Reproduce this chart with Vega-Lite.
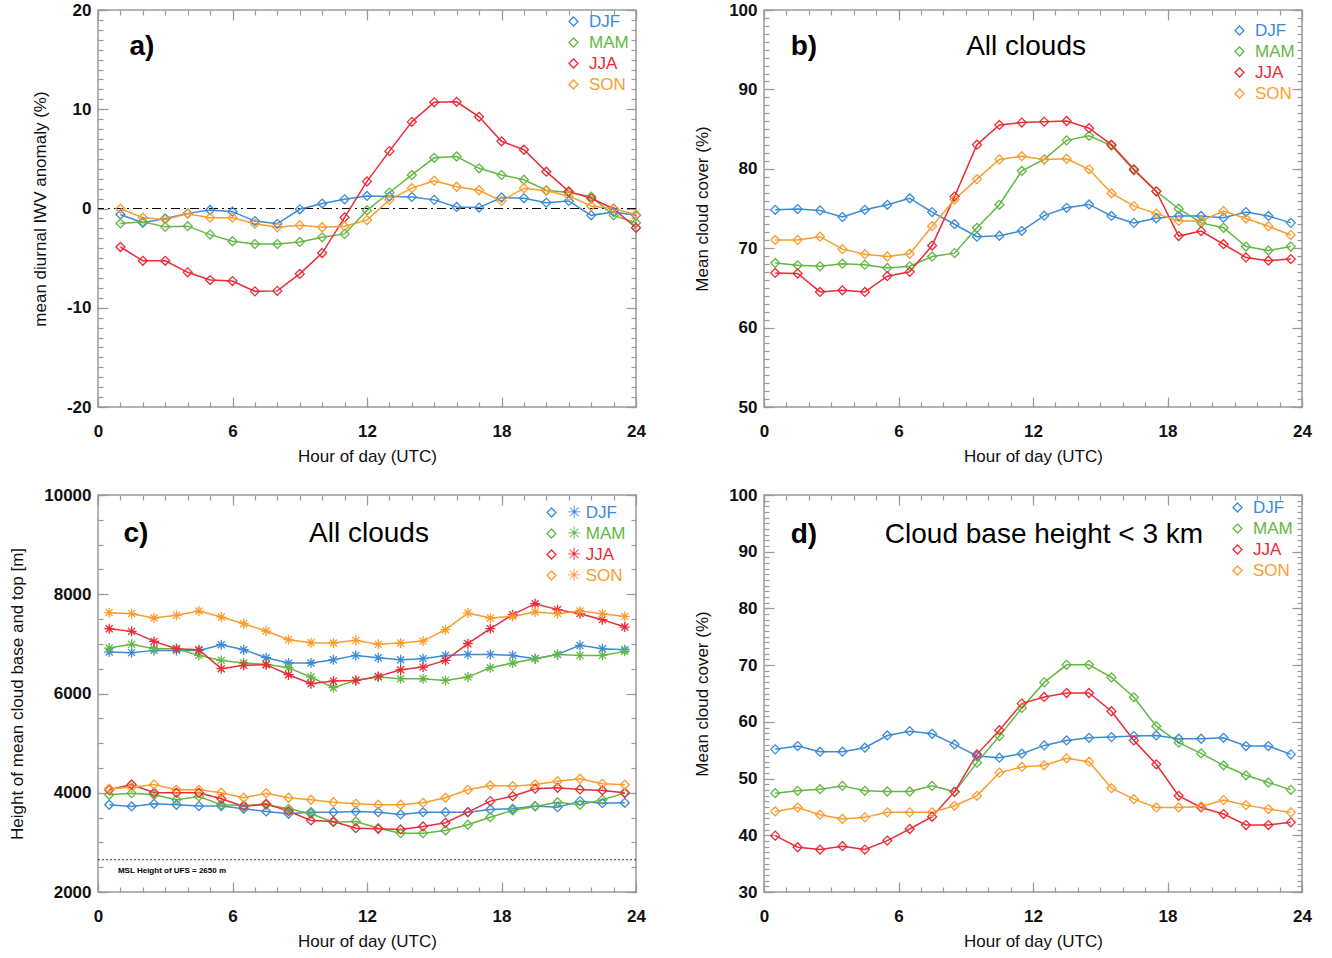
{
"$schema": "https://vega.github.io/schema/vega-lite/v6.json",
"padding": {"left": 7, "top": 0, "right": 5, "bottom": 5},
"background": "white",
"columns": 2,
"spacing": {"row": 88, "column": 128},
"bounds": "flush",
"resolve": {"scale": {"color": "independent"}, "legend": {"color": "independent"}},
"config": {
  "font": "Liberation Sans",
  "view": {"stroke": "#9a9a9a", "strokeWidth": 1.5},
  "axis": {"domain": false, "grid": false, "labelFont": "Liberation Sans", "labelFontSize": 17, "labelFontWeight": "bold", "labelColor": "#111111", "titleFont": "Liberation Sans", "titleFontSize": 17, "titleFontWeight": "normal", "titleColor": "#111111", "tickColor": "#9a9a9a", "tickWidth": 1.2, "labelFlush": false, "labelOverlap": false},
  "legend": {"labelFont": "Liberation Sans", "labelFontSize": 17, "symbolType": "diamond", "symbolSize": 80, "symbolStrokeWidth": 1.3, "symbolFillColor": "transparent", "labelOffset": 7, "rowPadding": 3, "padding": 0},
  "text": {"font": "Liberation Sans", "color": "#000000"}
},
"datasets": {
"a": [
{"h":1,"s":"DJF","v":-0.6},{"h":2,"s":"DJF","v":-1.44},{"h":3,"s":"DJF","v":-1.0},{"h":4,"s":"DJF","v":-0.49},{"h":5,"s":"DJF","v":-0.15},{"h":6,"s":"DJF","v":-0.32},{"h":7,"s":"DJF","v":-1.27},{"h":8,"s":"DJF","v":-1.54},{"h":9,"s":"DJF","v":-0.08},{"h":10,"s":"DJF","v":0.5},{"h":11,"s":"DJF","v":0.93},{"h":12,"s":"DJF","v":1.27},{"h":13,"s":"DJF","v":1.2},{"h":14,"s":"DJF","v":1.17},{"h":15,"s":"DJF","v":0.87},{"h":16,"s":"DJF","v":0.16},{"h":17,"s":"DJF","v":0.09},{"h":18,"s":"DJF","v":1.1},{"h":19,"s":"DJF","v":1.03},{"h":20,"s":"DJF","v":0.59},{"h":21,"s":"DJF","v":0.76},{"h":22,"s":"DJF","v":-0.69},{"h":23,"s":"DJF","v":-0.35},{"h":24,"s":"DJF","v":-0.69},
{"h":1,"s":"MAM","v":-1.5},{"h":2,"s":"MAM","v":-1.34},{"h":3,"s":"MAM","v":-1.85},{"h":4,"s":"MAM","v":-1.78},{"h":5,"s":"MAM","v":-2.63},{"h":6,"s":"MAM","v":-3.3},{"h":7,"s":"MAM","v":-3.58},{"h":8,"s":"MAM","v":-3.58},{"h":9,"s":"MAM","v":-3.37},{"h":10,"s":"MAM","v":-2.9},{"h":11,"s":"MAM","v":-2.56},{"h":12,"s":"MAM","v":-0.19},{"h":13,"s":"MAM","v":1.61},{"h":14,"s":"MAM","v":3.38},{"h":15,"s":"MAM","v":5.11},{"h":16,"s":"MAM","v":5.24},{"h":17,"s":"MAM","v":4.05},{"h":18,"s":"MAM","v":3.38},{"h":19,"s":"MAM","v":2.9},{"h":20,"s":"MAM","v":1.84},{"h":21,"s":"MAM","v":1.61},{"h":22,"s":"MAM","v":1.2},{"h":23,"s":"MAM","v":-0.69},{"h":24,"s":"MAM","v":-1.44},
{"h":1,"s":"JJA","v":-3.88},{"h":2,"s":"JJA","v":-5.27},{"h":3,"s":"JJA","v":-5.27},{"h":4,"s":"JJA","v":-6.43},{"h":5,"s":"JJA","v":-7.21},{"h":6,"s":"JJA","v":-7.31},{"h":7,"s":"JJA","v":-8.35},{"h":8,"s":"JJA","v":-8.3},{"h":9,"s":"JJA","v":-6.59},{"h":10,"s":"JJA","v":-4.49},{"h":11,"s":"JJA","v":-0.9},{"h":12,"s":"JJA","v":2.73},{"h":13,"s":"JJA","v":5.78},{"h":14,"s":"JJA","v":8.73},{"h":15,"s":"JJA","v":10.7},{"h":16,"s":"JJA","v":10.75},{"h":17,"s":"JJA","v":9.24},{"h":18,"s":"JJA","v":6.77},{"h":19,"s":"JJA","v":5.92},{"h":20,"s":"JJA","v":3.71},{"h":21,"s":"JJA","v":1.72},{"h":22,"s":"JJA","v":1.03},{"h":23,"s":"JJA","v":-0.02},{"h":24,"s":"JJA","v":-1.94},
{"h":1,"s":"SON","v":-0.02},{"h":2,"s":"SON","v":-0.93},{"h":3,"s":"SON","v":-1.1},{"h":4,"s":"SON","v":-0.53},{"h":5,"s":"SON","v":-0.93},{"h":6,"s":"SON","v":-0.93},{"h":7,"s":"SON","v":-1.54},{"h":8,"s":"SON","v":-1.89},{"h":9,"s":"SON","v":-1.68},{"h":10,"s":"SON","v":-1.89},{"h":11,"s":"SON","v":-1.78},{"h":12,"s":"SON","v":-1.17},{"h":13,"s":"SON","v":0.87},{"h":14,"s":"SON","v":2.05},{"h":15,"s":"SON","v":2.8},{"h":16,"s":"SON","v":2.19},{"h":17,"s":"SON","v":1.84},{"h":18,"s":"SON","v":0.76},{"h":19,"s":"SON","v":2.05},{"h":20,"s":"SON","v":1.79},{"h":21,"s":"SON","v":1.27},{"h":22,"s":"SON","v":0.25},{"h":23,"s":"SON","v":-0.02},{"h":24,"s":"SON","v":-0.6}
],
"b": [
{"h":0.5,"s":"DJF","v":74.84},{"h":1.5,"s":"DJF","v":74.93},{"h":2.5,"s":"DJF","v":74.76},{"h":3.5,"s":"DJF","v":73.93},{"h":4.5,"s":"DJF","v":74.84},{"h":5.5,"s":"DJF","v":75.47},{"h":6.5,"s":"DJF","v":76.29},{"h":7.5,"s":"DJF","v":74.55},{"h":8.5,"s":"DJF","v":73.02},{"h":9.5,"s":"DJF","v":71.45},{"h":10.5,"s":"DJF","v":71.57},{"h":11.5,"s":"DJF","v":72.19},{"h":12.5,"s":"DJF","v":74.1},{"h":13.5,"s":"DJF","v":75.09},{"h":14.5,"s":"DJF","v":75.51},{"h":15.5,"s":"DJF","v":74.06},{"h":16.5,"s":"DJF","v":73.19},{"h":17.5,"s":"DJF","v":73.77},{"h":18.5,"s":"DJF","v":74.06},{"h":19.5,"s":"DJF","v":74.06},{"h":20.5,"s":"DJF","v":73.85},{"h":21.5,"s":"DJF","v":74.55},{"h":22.5,"s":"DJF","v":74.06},{"h":23.5,"s":"DJF","v":73.19},
{"h":0.5,"s":"MAM","v":68.14},{"h":1.5,"s":"MAM","v":67.85},{"h":2.5,"s":"MAM","v":67.72},{"h":3.5,"s":"MAM","v":68.05},{"h":4.5,"s":"MAM","v":67.93},{"h":5.5,"s":"MAM","v":67.52},{"h":6.5,"s":"MAM","v":67.72},{"h":7.5,"s":"MAM","v":68.96},{"h":8.5,"s":"MAM","v":69.38},{"h":9.5,"s":"MAM","v":72.57},{"h":10.5,"s":"MAM","v":75.47},{"h":11.5,"s":"MAM","v":79.73},{"h":12.5,"s":"MAM","v":81.18},{"h":13.5,"s":"MAM","v":83.58},{"h":14.5,"s":"MAM","v":84.16},{"h":15.5,"s":"MAM","v":82.92},{"h":16.5,"s":"MAM","v":79.81},{"h":17.5,"s":"MAM","v":77.16},{"h":18.5,"s":"MAM","v":74.97},{"h":19.5,"s":"MAM","v":73.19},{"h":20.5,"s":"MAM","v":72.57},{"h":21.5,"s":"MAM","v":70.21},{"h":22.5,"s":"MAM","v":69.71},{"h":23.5,"s":"MAM","v":70.21},
{"h":0.5,"s":"JJA","v":66.89},{"h":1.5,"s":"JJA","v":66.81},{"h":2.5,"s":"JJA","v":64.49},{"h":3.5,"s":"JJA","v":64.7},{"h":4.5,"s":"JJA","v":64.49},{"h":5.5,"s":"JJA","v":66.48},{"h":6.5,"s":"JJA","v":67.02},{"h":7.5,"s":"JJA","v":70.33},{"h":8.5,"s":"JJA","v":76.5},{"h":9.5,"s":"JJA","v":83.04},{"h":10.5,"s":"JJA","v":85.53},{"h":11.5,"s":"JJA","v":85.82},{"h":12.5,"s":"JJA","v":85.94},{"h":13.5,"s":"JJA","v":86.02},{"h":14.5,"s":"JJA","v":85.11},{"h":15.5,"s":"JJA","v":83.04},{"h":16.5,"s":"JJA","v":79.94},{"h":17.5,"s":"JJA","v":77.16},{"h":18.5,"s":"JJA","v":71.53},{"h":19.5,"s":"JJA","v":72.15},{"h":20.5,"s":"JJA","v":70.5},{"h":21.5,"s":"JJA","v":68.84},{"h":22.5,"s":"JJA","v":68.43},{"h":23.5,"s":"JJA","v":68.63},
{"h":0.5,"s":"SON","v":71.04},{"h":1.5,"s":"SON","v":71.04},{"h":2.5,"s":"SON","v":71.45},{"h":3.5,"s":"SON","v":69.88},{"h":4.5,"s":"SON","v":69.25},{"h":5.5,"s":"SON","v":68.96},{"h":6.5,"s":"SON","v":69.3},{"h":7.5,"s":"SON","v":72.77},{"h":8.5,"s":"SON","v":76.13},{"h":9.5,"s":"SON","v":78.7},{"h":10.5,"s":"SON","v":81.18},{"h":11.5,"s":"SON","v":81.59},{"h":12.5,"s":"SON","v":81.18},{"h":13.5,"s":"SON","v":81.26},{"h":14.5,"s":"SON","v":79.94},{"h":15.5,"s":"SON","v":76.92},{"h":16.5,"s":"SON","v":75.3},{"h":17.5,"s":"SON","v":74.35},{"h":18.5,"s":"SON","v":73.44},{"h":19.5,"s":"SON","v":73.44},{"h":20.5,"s":"SON","v":74.68},{"h":21.5,"s":"SON","v":73.73},{"h":22.5,"s":"SON","v":72.77},{"h":23.5,"s":"SON","v":71.66}
],
"c": [
{"h":0.5,"s":"DJF","k":"top","v":6835},{"h":1.5,"s":"DJF","k":"top","v":6823},{"h":2.5,"s":"DJF","k":"top","v":6869},{"h":3.5,"s":"DJF","k":"top","v":6869},{"h":4.5,"s":"DJF","k":"top","v":6869},{"h":5.5,"s":"DJF","k":"top","v":6984},{"h":6.5,"s":"DJF","k":"top","v":6883},{"h":7.5,"s":"DJF","k":"top","v":6722},{"h":8.5,"s":"DJF","k":"top","v":6613},{"h":9.5,"s":"DJF","k":"top","v":6613},{"h":10.5,"s":"DJF","k":"top","v":6681},{"h":11.5,"s":"DJF","k":"top","v":6768},{"h":12.5,"s":"DJF","k":"top","v":6722},{"h":13.5,"s":"DJF","k":"top","v":6681},{"h":14.5,"s":"DJF","k":"top","v":6702},{"h":15.5,"s":"DJF","k":"top","v":6768},{"h":16.5,"s":"DJF","k":"top","v":6788},{"h":17.5,"s":"DJF","k":"top","v":6788},{"h":18.5,"s":"DJF","k":"top","v":6768},{"h":19.5,"s":"DJF","k":"top","v":6702},{"h":20.5,"s":"DJF","k":"top","v":6788},{"h":21.5,"s":"DJF","k":"top","v":6970},{"h":22.5,"s":"DJF","k":"top","v":6903},{"h":23.5,"s":"DJF","k":"top","v":6883},
{"h":0.5,"s":"MAM","k":"top","v":6916},{"h":1.5,"s":"MAM","k":"top","v":6990},{"h":2.5,"s":"MAM","k":"top","v":6903},{"h":3.5,"s":"MAM","k":"top","v":6903},{"h":4.5,"s":"MAM","k":"top","v":6768},{"h":5.5,"s":"MAM","k":"top","v":6667},{"h":6.5,"s":"MAM","k":"top","v":6613},{"h":7.5,"s":"MAM","k":"top","v":6587},{"h":8.5,"s":"MAM","k":"top","v":6520},{"h":9.5,"s":"MAM","k":"top","v":6331},{"h":10.5,"s":"MAM","k":"top","v":6117},{"h":11.5,"s":"MAM","k":"top","v":6264},{"h":12.5,"s":"MAM","k":"top","v":6331},{"h":13.5,"s":"MAM","k":"top","v":6298},{"h":14.5,"s":"MAM","k":"top","v":6298},{"h":15.5,"s":"MAM","k":"top","v":6264},{"h":16.5,"s":"MAM","k":"top","v":6331},{"h":17.5,"s":"MAM","k":"top","v":6520},{"h":18.5,"s":"MAM","k":"top","v":6613},{"h":19.5,"s":"MAM","k":"top","v":6702},{"h":20.5,"s":"MAM","k":"top","v":6788},{"h":21.5,"s":"MAM","k":"top","v":6768},{"h":22.5,"s":"MAM","k":"top","v":6768},{"h":23.5,"s":"MAM","k":"top","v":6849},
{"h":0.5,"s":"JJA","k":"top","v":7306},{"h":1.5,"s":"JJA","k":"top","v":7252},{"h":2.5,"s":"JJA","k":"top","v":7050},{"h":3.5,"s":"JJA","k":"top","v":6903},{"h":4.5,"s":"JJA","k":"top","v":6883},{"h":5.5,"s":"JJA","k":"top","v":6500},{"h":6.5,"s":"JJA","k":"top","v":6567},{"h":7.5,"s":"JJA","k":"top","v":6581},{"h":8.5,"s":"JJA","k":"top","v":6379},{"h":9.5,"s":"JJA","k":"top","v":6198},{"h":10.5,"s":"JJA","k":"top","v":6250},{"h":11.5,"s":"JJA","k":"top","v":6264},{"h":12.5,"s":"JJA","k":"top","v":6345},{"h":13.5,"s":"JJA","k":"top","v":6480},{"h":14.5,"s":"JJA","k":"top","v":6532},{"h":15.5,"s":"JJA","k":"top","v":6667},{"h":16.5,"s":"JJA","k":"top","v":7004},{"h":17.5,"s":"JJA","k":"top","v":7306},{"h":18.5,"s":"JJA","k":"top","v":7589},{"h":19.5,"s":"JJA","k":"top","v":7810},{"h":20.5,"s":"JJA","k":"top","v":7690},{"h":21.5,"s":"JJA","k":"top","v":7609},{"h":22.5,"s":"JJA","k":"top","v":7488},{"h":23.5,"s":"JJA","k":"top","v":7339},
{"h":0.5,"s":"SON","k":"top","v":7629},{"h":1.5,"s":"SON","k":"top","v":7609},{"h":2.5,"s":"SON","k":"top","v":7520},{"h":3.5,"s":"SON","k":"top","v":7575},{"h":4.5,"s":"SON","k":"top","v":7661},{"h":5.5,"s":"SON","k":"top","v":7540},{"h":6.5,"s":"SON","k":"top","v":7407},{"h":7.5,"s":"SON","k":"top","v":7258},{"h":8.5,"s":"SON","k":"top","v":7085},{"h":9.5,"s":"SON","k":"top","v":7024},{"h":10.5,"s":"SON","k":"top","v":7016},{"h":11.5,"s":"SON","k":"top","v":7071},{"h":12.5,"s":"SON","k":"top","v":6990},{"h":13.5,"s":"SON","k":"top","v":7016},{"h":14.5,"s":"SON","k":"top","v":7056},{"h":15.5,"s":"SON","k":"top","v":7286},{"h":16.5,"s":"SON","k":"top","v":7621},{"h":17.5,"s":"SON","k":"top","v":7520},{"h":18.5,"s":"SON","k":"top","v":7554},{"h":19.5,"s":"SON","k":"top","v":7641},{"h":20.5,"s":"SON","k":"top","v":7609},{"h":21.5,"s":"SON","k":"top","v":7661},{"h":22.5,"s":"SON","k":"top","v":7609},{"h":23.5,"s":"SON","k":"top","v":7554},
{"h":0.5,"s":"DJF","k":"base","v":3758},{"h":1.5,"s":"DJF","k":"base","v":3724},{"h":2.5,"s":"DJF","k":"base","v":3778},{"h":3.5,"s":"DJF","k":"base","v":3758},{"h":4.5,"s":"DJF","k":"base","v":3731},{"h":5.5,"s":"DJF","k":"base","v":3731},{"h":6.5,"s":"DJF","k":"base","v":3677},{"h":7.5,"s":"DJF","k":"base","v":3623},{"h":8.5,"s":"DJF","k":"base","v":3577},{"h":9.5,"s":"DJF","k":"base","v":3609},{"h":10.5,"s":"DJF","k":"base","v":3609},{"h":11.5,"s":"DJF","k":"base","v":3623},{"h":12.5,"s":"DJF","k":"base","v":3609},{"h":13.5,"s":"DJF","k":"base","v":3563},{"h":14.5,"s":"DJF","k":"base","v":3609},{"h":15.5,"s":"DJF","k":"base","v":3609},{"h":16.5,"s":"DJF","k":"base","v":3609},{"h":17.5,"s":"DJF","k":"base","v":3663},{"h":18.5,"s":"DJF","k":"base","v":3677},{"h":19.5,"s":"DJF","k":"base","v":3731},{"h":20.5,"s":"DJF","k":"base","v":3710},{"h":21.5,"s":"DJF","k":"base","v":3831},{"h":22.5,"s":"DJF","k":"base","v":3790},{"h":23.5,"s":"DJF","k":"base","v":3798},
{"h":0.5,"s":"MAM","k":"base","v":3960},{"h":1.5,"s":"MAM","k":"base","v":3992},{"h":2.5,"s":"MAM","k":"base","v":3960},{"h":3.5,"s":"MAM","k":"base","v":3859},{"h":4.5,"s":"MAM","k":"base","v":3925},{"h":5.5,"s":"MAM","k":"base","v":3758},{"h":6.5,"s":"MAM","k":"base","v":3744},{"h":7.5,"s":"MAM","k":"base","v":3758},{"h":8.5,"s":"MAM","k":"base","v":3677},{"h":9.5,"s":"MAM","k":"base","v":3577},{"h":10.5,"s":"MAM","k":"base","v":3407},{"h":11.5,"s":"MAM","k":"base","v":3421},{"h":12.5,"s":"MAM","k":"base","v":3286},{"h":13.5,"s":"MAM","k":"base","v":3185},{"h":14.5,"s":"MAM","k":"base","v":3185},{"h":15.5,"s":"MAM","k":"base","v":3239},{"h":16.5,"s":"MAM","k":"base","v":3355},{"h":17.5,"s":"MAM","k":"base","v":3508},{"h":18.5,"s":"MAM","k":"base","v":3643},{"h":19.5,"s":"MAM","k":"base","v":3724},{"h":20.5,"s":"MAM","k":"base","v":3810},{"h":21.5,"s":"MAM","k":"base","v":3758},{"h":22.5,"s":"MAM","k":"base","v":3859},{"h":23.5,"s":"MAM","k":"base","v":3992},
{"h":0.5,"s":"JJA","k":"base","v":4060},{"h":1.5,"s":"JJA","k":"base","v":4167},{"h":2.5,"s":"JJA","k":"base","v":4000},{"h":3.5,"s":"JJA","k":"base","v":4000},{"h":4.5,"s":"JJA","k":"base","v":4000},{"h":5.5,"s":"JJA","k":"base","v":3879},{"h":6.5,"s":"JJA","k":"base","v":3724},{"h":7.5,"s":"JJA","k":"base","v":3778},{"h":8.5,"s":"JJA","k":"base","v":3629},{"h":9.5,"s":"JJA","k":"base","v":3442},{"h":10.5,"s":"JJA","k":"base","v":3421},{"h":11.5,"s":"JJA","k":"base","v":3286},{"h":12.5,"s":"JJA","k":"base","v":3274},{"h":13.5,"s":"JJA","k":"base","v":3260},{"h":14.5,"s":"JJA","k":"base","v":3321},{"h":15.5,"s":"JJA","k":"base","v":3395},{"h":16.5,"s":"JJA","k":"base","v":3609},{"h":17.5,"s":"JJA","k":"base","v":3831},{"h":18.5,"s":"JJA","k":"base","v":3931},{"h":19.5,"s":"JJA","k":"base","v":4081},{"h":20.5,"s":"JJA","k":"base","v":4101},{"h":21.5,"s":"JJA","k":"base","v":4067},{"h":22.5,"s":"JJA","k":"base","v":4046},{"h":23.5,"s":"JJA","k":"base","v":4000},
{"h":0.5,"s":"SON","k":"base","v":4081},{"h":1.5,"s":"SON","k":"base","v":4113},{"h":2.5,"s":"SON","k":"base","v":4167},{"h":3.5,"s":"SON","k":"base","v":4060},{"h":4.5,"s":"SON","k":"base","v":4060},{"h":5.5,"s":"SON","k":"base","v":4000},{"h":6.5,"s":"SON","k":"base","v":3899},{"h":7.5,"s":"SON","k":"base","v":3992},{"h":8.5,"s":"SON","k":"base","v":3899},{"h":9.5,"s":"SON","k":"base","v":3859},{"h":10.5,"s":"SON","k":"base","v":3810},{"h":11.5,"s":"SON","k":"base","v":3778},{"h":12.5,"s":"SON","k":"base","v":3758},{"h":13.5,"s":"SON","k":"base","v":3758},{"h":14.5,"s":"SON","k":"base","v":3798},{"h":15.5,"s":"SON","k":"base","v":3899},{"h":16.5,"s":"SON","k":"base","v":4060},{"h":17.5,"s":"SON","k":"base","v":4147},{"h":18.5,"s":"SON","k":"base","v":4133},{"h":19.5,"s":"SON","k":"base","v":4167},{"h":20.5,"s":"SON","k":"base","v":4234},{"h":21.5,"s":"SON","k":"base","v":4282},{"h":22.5,"s":"SON","k":"base","v":4181},{"h":23.5,"s":"SON","k":"base","v":4161}
],
"d": [
{"h":0.5,"s":"DJF","v":55.15},{"h":1.5,"s":"DJF","v":55.73},{"h":2.5,"s":"DJF","v":54.74},{"h":3.5,"s":"DJF","v":54.74},{"h":4.5,"s":"DJF","v":55.44},{"h":5.5,"s":"DJF","v":57.6},{"h":6.5,"s":"DJF","v":58.36},{"h":7.5,"s":"DJF","v":57.89},{"h":8.5,"s":"DJF","v":56.02},{"h":9.5,"s":"DJF","v":53.98},{"h":10.5,"s":"DJF","v":53.68},{"h":11.5,"s":"DJF","v":54.39},{"h":12.5,"s":"DJF","v":55.85},{"h":13.5,"s":"DJF","v":56.73},{"h":14.5,"s":"DJF","v":57.19},{"h":15.5,"s":"DJF","v":57.31},{"h":16.5,"s":"DJF","v":57.49},{"h":17.5,"s":"DJF","v":57.6},{"h":18.5,"s":"DJF","v":57.02},{"h":19.5,"s":"DJF","v":57.02},{"h":20.5,"s":"DJF","v":57.19},{"h":21.5,"s":"DJF","v":55.73},{"h":22.5,"s":"DJF","v":55.73},{"h":23.5,"s":"DJF","v":54.27},
{"h":0.5,"s":"MAM","v":47.43},{"h":1.5,"s":"MAM","v":47.84},{"h":2.5,"s":"MAM","v":48.13},{"h":3.5,"s":"MAM","v":48.71},{"h":4.5,"s":"MAM","v":47.84},{"h":5.5,"s":"MAM","v":47.72},{"h":6.5,"s":"MAM","v":47.72},{"h":7.5,"s":"MAM","v":48.71},{"h":8.5,"s":"MAM","v":47.66},{"h":9.5,"s":"MAM","v":52.81},{"h":10.5,"s":"MAM","v":57.49},{"h":11.5,"s":"MAM","v":62.46},{"h":12.5,"s":"MAM","v":66.96},{"h":13.5,"s":"MAM","v":70.06},{"h":14.5,"s":"MAM","v":70.06},{"h":15.5,"s":"MAM","v":67.84},{"h":16.5,"s":"MAM","v":64.33},{"h":17.5,"s":"MAM","v":59.24},{"h":18.5,"s":"MAM","v":56.32},{"h":19.5,"s":"MAM","v":54.44},{"h":20.5,"s":"MAM","v":52.34},{"h":21.5,"s":"MAM","v":50.58},{"h":22.5,"s":"MAM","v":49.3},{"h":23.5,"s":"MAM","v":48.01},
{"h":0.5,"s":"JJA","v":39.94},{"h":1.5,"s":"JJA","v":37.89},{"h":2.5,"s":"JJA","v":37.49},{"h":3.5,"s":"JJA","v":38.07},{"h":4.5,"s":"JJA","v":37.49},{"h":5.5,"s":"JJA","v":39.06},{"h":6.5,"s":"JJA","v":41.11},{"h":7.5,"s":"JJA","v":43.27},{"h":8.5,"s":"JJA","v":47.66},{"h":9.5,"s":"JJA","v":54.27},{"h":10.5,"s":"JJA","v":58.54},{"h":11.5,"s":"JJA","v":63.22},{"h":12.5,"s":"JJA","v":64.39},{"h":13.5,"s":"JJA","v":65.09},{"h":14.5,"s":"JJA","v":65.09},{"h":15.5,"s":"JJA","v":61.87},{"h":16.5,"s":"JJA","v":56.73},{"h":17.5,"s":"JJA","v":52.51},{"h":18.5,"s":"JJA","v":46.96},{"h":19.5,"s":"JJA","v":44.91},{"h":20.5,"s":"JJA","v":43.74},{"h":21.5,"s":"JJA","v":41.81},{"h":22.5,"s":"JJA","v":41.81},{"h":23.5,"s":"JJA","v":42.28},
{"h":0.5,"s":"SON","v":44.21},{"h":1.5,"s":"SON","v":44.91},{"h":2.5,"s":"SON","v":43.63},{"h":3.5,"s":"SON","v":42.87},{"h":4.5,"s":"SON","v":43.16},{"h":5.5,"s":"SON","v":44.04},{"h":6.5,"s":"SON","v":44.04},{"h":7.5,"s":"SON","v":44.04},{"h":8.5,"s":"SON","v":45.2},{"h":9.5,"s":"SON","v":46.96},{"h":10.5,"s":"SON","v":51.05},{"h":11.5,"s":"SON","v":52.05},{"h":12.5,"s":"SON","v":52.34},{"h":13.5,"s":"SON","v":53.57},{"h":14.5,"s":"SON","v":52.98},{"h":15.5,"s":"SON","v":48.3},{"h":16.5,"s":"SON","v":46.37},{"h":17.5,"s":"SON","v":44.91},{"h":18.5,"s":"SON","v":44.91},{"h":19.5,"s":"SON","v":45.09},{"h":20.5,"s":"SON","v":46.2},{"h":21.5,"s":"SON","v":45.32},{"h":22.5,"s":"SON","v":44.62},{"h":23.5,"s":"SON","v":44.04}
]
},
"concat": [
{
 "width": 538, "height": 397,
 "data": {"name": "a"},
 "resolve": {"axis": {"x": "independent", "y": "independent"}},
 "layer": [
  {"data": {"values": [{}]}, "mark": {"type": "rule", "color": "#000000", "strokeWidth": 1, "strokeDash": [9, 4, 2, 4]},
   "encoding": {"y": {"datum": 0, "type": "quantitative", "scale": {"domain": [-20, 20], "nice": false}, "axis": null}}},
  {"mark": {"type": "line", "strokeWidth": 1.5},
   "encoding": {
    "x": {"field": "h", "type": "quantitative", "scale": {"domain": [0, 24], "nice": false, "zero": false}, "axis": {"orient": "bottom", "values": [0, 6, 12, 18, 24], "ticks": false, "labelPadding": 16, "title": "Hour of day (UTC)", "titlePadding": 9}},
    "y": {"field": "v", "type": "quantitative", "scale": {"domain": [-20, 20], "nice": false}, "axis": {"orient": "left", "values": [-20, -10, 0, 10, 20], "ticks": false, "labelPadding": 7, "labelExpr": "datum.value < 0 ? '-' + abs(datum.value) : '' + datum.value", "title": "mean diurnal IWV anomaly (%)", "titlePadding": 17}},
    "color": {"field": "s", "type": "nominal", "scale": {"domain": ["DJF", "MAM", "JJA", "SON"], "range": ["#3b8bd9", "#63b843", "#ec2b36", "#fb9c2d"]},
     "legend": {"title": null, "orient": "none", "legendX": 467, "legendY": 3, "encode": {"labels": {"update": {"fill": {"signal": "datum.value === 'DJF' ? '#3b8bd9' : datum.value === 'MAM' ? '#63b843' : datum.value === 'JJA' ? '#ec2b36' : '#fb9c2d'"}}}}}}
   }},
  {"mark": {"type": "point", "shape": "diamond", "filled": false, "size": 80, "strokeWidth": 1.3, "opacity": 1},
   "encoding": {
    "x": {"field": "h", "type": "quantitative", "scale": {"domain": [0, 24], "nice": false, "zero": false}, "axis": null},
    "y": {"field": "v", "type": "quantitative", "scale": {"domain": [-20, 20], "nice": false}, "axis": null},
    "color": {"field": "s", "type": "nominal", "scale": {"domain": ["DJF", "MAM", "JJA", "SON"], "range": ["#3b8bd9", "#63b843", "#ec2b36", "#fb9c2d"]}}
   }},
  {"mark": {"type": "point", "opacity": 0},
   "encoding": {
    "x": {"field": "h", "type": "quantitative", "scale": {"domain": [0, 24], "nice": false, "zero": false}, "axis": {"orient": "bottom", "values": [0, 6, 12, 18, 24], "labels": false, "tickSize": -10, "title": null}},
    "y": {"field": "v", "type": "quantitative", "scale": {"domain": [-20, 20], "nice": false}, "axis": {"orient": "left", "values": [-20, -10, 0, 10, 20], "labels": false, "tickSize": -10, "title": null}}
   }},
  {"mark": {"type": "point", "opacity": 0},
   "encoding": {
    "x": {"field": "h", "type": "quantitative", "scale": {"domain": [0, 24], "nice": false, "zero": false}, "axis": {"orient": "top", "values": [0, 6, 12, 18, 24], "labels": false, "tickSize": -10, "title": null}},
    "y": {"field": "v", "type": "quantitative", "scale": {"domain": [-20, 20], "nice": false}, "axis": {"orient": "right", "values": [-20, -10, 0, 10, 20], "labels": false, "tickSize": -10, "title": null}}
   }},
  {"mark": {"type": "point", "opacity": 0},
   "encoding": {
    "x": {"field": "h", "type": "quantitative", "scale": {"domain": [0, 24], "nice": false, "zero": false}, "axis": {"orient": "bottom", "tickCount": 24, "labels": false, "tickSize": -5, "title": null}},
    "y": {"field": "v", "type": "quantitative", "scale": {"domain": [-20, 20], "nice": false}, "axis": {"orient": "left", "tickCount": 40, "labels": false, "tickSize": -5, "title": null}}
   }},
  {"mark": {"type": "point", "opacity": 0},
   "encoding": {
    "x": {"field": "h", "type": "quantitative", "scale": {"domain": [0, 24], "nice": false, "zero": false}, "axis": {"orient": "top", "tickCount": 24, "labels": false, "tickSize": -5, "title": null}},
    "y": {"field": "v", "type": "quantitative", "scale": {"domain": [-20, 20], "nice": false}, "axis": {"orient": "right", "tickCount": 40, "labels": false, "tickSize": -5, "title": null}}
   }},
  {"data": {"values": [{}]}, "mark": {"type": "text", "fontSize": 28, "fontWeight": "bold", "align": "center", "baseline": "middle"},
   "encoding": {"x": {"datum": 1.96, "type": "quantitative", "axis": null}, "y": {"datum": 16.27, "type": "quantitative", "axis": null}, "text": {"value": "a)"}}}
 ]
},
{
 "width": 538, "height": 397,
 "data": {"name": "b"},
 "resolve": {"axis": {"x": "independent", "y": "independent"}},
 "layer": [
  {"mark": {"type": "line", "strokeWidth": 1.5},
   "encoding": {
    "x": {"field": "h", "type": "quantitative", "scale": {"domain": [0, 24], "nice": false, "zero": false}, "axis": {"orient": "bottom", "values": [0, 6, 12, 18, 24], "ticks": false, "labelPadding": 16, "title": "Hour of day (UTC)", "titlePadding": 9}},
    "y": {"field": "v", "type": "quantitative", "scale": {"domain": [50, 100], "nice": false, "zero": false}, "axis": {"orient": "left", "values": [50, 60, 70, 80, 90, 100], "ticks": false, "labelPadding": 7, "title": "Mean cloud cover (%)", "titlePadding": 17}},
    "color": {"field": "s", "type": "nominal", "scale": {"domain": ["DJF", "MAM", "JJA", "SON"], "range": ["#3b8bd9", "#63b843", "#ec2b36", "#fb9c2d"]},
     "legend": {"title": null, "orient": "none", "legendX": 467, "legendY": 12, "encode": {"labels": {"update": {"fill": {"signal": "datum.value === 'DJF' ? '#3b8bd9' : datum.value === 'MAM' ? '#63b843' : datum.value === 'JJA' ? '#ec2b36' : '#fb9c2d'"}}}}}}
   }},
  {"mark": {"type": "point", "shape": "diamond", "filled": false, "size": 80, "strokeWidth": 1.3, "opacity": 1},
   "encoding": {
    "x": {"field": "h", "type": "quantitative", "scale": {"domain": [0, 24], "nice": false, "zero": false}, "axis": null},
    "y": {"field": "v", "type": "quantitative", "scale": {"domain": [50, 100], "nice": false, "zero": false}, "axis": null},
    "color": {"field": "s", "type": "nominal", "scale": {"domain": ["DJF", "MAM", "JJA", "SON"], "range": ["#3b8bd9", "#63b843", "#ec2b36", "#fb9c2d"]}}
   }},
  {"mark": {"type": "point", "opacity": 0},
   "encoding": {
    "x": {"field": "h", "type": "quantitative", "scale": {"domain": [0, 24], "nice": false, "zero": false}, "axis": {"orient": "bottom", "values": [0, 6, 12, 18, 24], "labels": false, "tickSize": -10, "title": null}},
    "y": {"field": "v", "type": "quantitative", "scale": {"domain": [50, 100], "nice": false, "zero": false}, "axis": {"orient": "left", "values": [50, 60, 70, 80, 90, 100], "labels": false, "tickSize": -10, "title": null}}
   }},
  {"mark": {"type": "point", "opacity": 0},
   "encoding": {
    "x": {"field": "h", "type": "quantitative", "scale": {"domain": [0, 24], "nice": false, "zero": false}, "axis": {"orient": "top", "values": [0, 6, 12, 18, 24], "labels": false, "tickSize": -10, "title": null}},
    "y": {"field": "v", "type": "quantitative", "scale": {"domain": [50, 100], "nice": false, "zero": false}, "axis": {"orient": "right", "values": [50, 60, 70, 80, 90, 100], "labels": false, "tickSize": -10, "title": null}}
   }},
  {"mark": {"type": "point", "opacity": 0},
   "encoding": {
    "x": {"field": "h", "type": "quantitative", "scale": {"domain": [0, 24], "nice": false, "zero": false}, "axis": {"orient": "bottom", "tickCount": 24, "labels": false, "tickSize": -5, "title": null}},
    "y": {"field": "v", "type": "quantitative", "scale": {"domain": [50, 100], "nice": false, "zero": false}, "axis": {"orient": "left", "tickCount": 50, "labels": false, "tickSize": -5, "title": null}}
   }},
  {"mark": {"type": "point", "opacity": 0},
   "encoding": {
    "x": {"field": "h", "type": "quantitative", "scale": {"domain": [0, 24], "nice": false, "zero": false}, "axis": {"orient": "top", "tickCount": 24, "labels": false, "tickSize": -5, "title": null}},
    "y": {"field": "v", "type": "quantitative", "scale": {"domain": [50, 100], "nice": false, "zero": false}, "axis": {"orient": "right", "tickCount": 50, "labels": false, "tickSize": -5, "title": null}}
   }},
  {"data": {"values": [{}]}, "mark": {"type": "text", "fontSize": 28, "fontWeight": "bold", "align": "center", "baseline": "middle"},
   "encoding": {"x": {"datum": 1.78, "type": "quantitative", "axis": null}, "y": {"datum": 95.3, "type": "quantitative", "axis": null}, "text": {"value": "b)"}}},
  {"data": {"values": [{}]}, "mark": {"type": "text", "fontSize": 28, "fontWeight": "normal", "align": "center", "baseline": "middle"},
   "encoding": {"x": {"datum": 11.69, "type": "quantitative", "axis": null}, "y": {"datum": 95.3, "type": "quantitative", "axis": null}, "text": {"value": "All clouds"}}}
 ]
},
{
 "width": 538, "height": 397,
 "data": {"name": "c"},
 "resolve": {"axis": {"x": "independent", "y": "independent"}},
 "layer": [
  {"data": {"values": [{}]}, "mark": {"type": "rule", "color": "#333333", "strokeWidth": 1, "strokeDash": [2, 2]},
   "encoding": {"y": {"datum": 2650, "type": "quantitative", "scale": {"domain": [2000, 10000], "nice": false, "zero": false}, "axis": null}}},
  {"mark": {"type": "line", "strokeWidth": 1.5},
   "encoding": {
    "x": {"field": "h", "type": "quantitative", "scale": {"domain": [0, 24], "nice": false, "zero": false}, "axis": {"orient": "bottom", "values": [0, 6, 12, 18, 24], "ticks": false, "labelPadding": 16, "title": "Hour of day (UTC)", "titlePadding": 9}},
    "y": {"field": "v", "type": "quantitative", "scale": {"domain": [2000, 10000], "nice": false, "zero": false}, "axis": {"orient": "left", "values": [2000, 4000, 6000, 8000, 10000], "ticks": false, "labelPadding": 7, "labelExpr": "'' + datum.value", "title": "Height of mean cloud base and top [m]", "titlePadding": 17}},
    "detail": {"field": "k", "type": "nominal"},
    "color": {"field": "s", "type": "nominal", "scale": {"domain": ["DJF", "MAM", "JJA", "SON"], "range": ["#3b8bd9", "#63b843", "#ec2b36", "#fb9c2d"]},
     "legend": {"title": null, "orient": "none", "legendX": 445, "legendY": 9, "labelExpr": "'✳  ' + datum.label", "encode": {"labels": {"update": {"fill": {"signal": "datum.value === 'DJF' ? '#3b8bd9' : datum.value === 'MAM' ? '#63b843' : datum.value === 'JJA' ? '#ec2b36' : '#fb9c2d'"}}}}}}
   }},
  {"transform": [{"filter": "datum.k === 'base'"}],
   "mark": {"type": "point", "shape": "diamond", "filled": false, "size": 80, "strokeWidth": 1.3, "opacity": 1},
   "encoding": {
    "x": {"field": "h", "type": "quantitative", "scale": {"domain": [0, 24], "nice": false, "zero": false}, "axis": null},
    "y": {"field": "v", "type": "quantitative", "scale": {"domain": [2000, 10000], "nice": false, "zero": false}, "axis": null},
    "color": {"field": "s", "type": "nominal", "scale": {"domain": ["DJF", "MAM", "JJA", "SON"], "range": ["#3b8bd9", "#63b843", "#ec2b36", "#fb9c2d"]}}
   }},
  {"transform": [{"filter": "datum.k === 'top'"}],
   "mark": {"type": "point", "shape": "M-1,0L1,0M0,-1L0,1M-0.7,-0.7L0.7,0.7M-0.7,0.7L0.7,-0.7", "filled": false, "size": 100, "strokeWidth": 1.3, "opacity": 1},
   "encoding": {
    "x": {"field": "h", "type": "quantitative", "scale": {"domain": [0, 24], "nice": false, "zero": false}, "axis": null},
    "y": {"field": "v", "type": "quantitative", "scale": {"domain": [2000, 10000], "nice": false, "zero": false}, "axis": null},
    "color": {"field": "s", "type": "nominal", "scale": {"domain": ["DJF", "MAM", "JJA", "SON"], "range": ["#3b8bd9", "#63b843", "#ec2b36", "#fb9c2d"]}}
   }},
  {"mark": {"type": "point", "opacity": 0},
   "encoding": {
    "x": {"field": "h", "type": "quantitative", "scale": {"domain": [0, 24], "nice": false, "zero": false}, "axis": {"orient": "bottom", "values": [0, 6, 12, 18, 24], "labels": false, "tickSize": -10, "title": null}},
    "y": {"field": "v", "type": "quantitative", "scale": {"domain": [2000, 10000], "nice": false, "zero": false}, "axis": {"orient": "left", "values": [2000, 4000, 6000, 8000, 10000], "labels": false, "tickSize": -10, "title": null}}
   }},
  {"mark": {"type": "point", "opacity": 0},
   "encoding": {
    "x": {"field": "h", "type": "quantitative", "scale": {"domain": [0, 24], "nice": false, "zero": false}, "axis": {"orient": "top", "values": [0, 6, 12, 18, 24], "labels": false, "tickSize": -10, "title": null}},
    "y": {"field": "v", "type": "quantitative", "scale": {"domain": [2000, 10000], "nice": false, "zero": false}, "axis": {"orient": "right", "values": [2000, 4000, 6000, 8000, 10000], "labels": false, "tickSize": -10, "title": null}}
   }},
  {"mark": {"type": "point", "opacity": 0},
   "encoding": {
    "x": {"field": "h", "type": "quantitative", "scale": {"domain": [0, 24], "nice": false, "zero": false}, "axis": {"orient": "bottom", "tickCount": 24, "labels": false, "tickSize": -5, "title": null}},
    "y": {"field": "v", "type": "quantitative", "scale": {"domain": [2000, 10000], "nice": false, "zero": false}, "axis": {"orient": "left", "tickCount": 16, "labels": false, "tickSize": -5, "title": null}}
   }},
  {"mark": {"type": "point", "opacity": 0},
   "encoding": {
    "x": {"field": "h", "type": "quantitative", "scale": {"domain": [0, 24], "nice": false, "zero": false}, "axis": {"orient": "top", "tickCount": 24, "labels": false, "tickSize": -5, "title": null}},
    "y": {"field": "v", "type": "quantitative", "scale": {"domain": [2000, 10000], "nice": false, "zero": false}, "axis": {"orient": "right", "tickCount": 16, "labels": false, "tickSize": -5, "title": null}}
   }},
  {"data": {"values": [{}]}, "mark": {"type": "text", "fontSize": 28, "fontWeight": "bold", "align": "center", "baseline": "middle"},
   "encoding": {"x": {"datum": 1.69, "type": "quantitative", "axis": null}, "y": {"datum": 9214, "type": "quantitative", "axis": null}, "text": {"value": "c)"}}},
  {"data": {"values": [{}]}, "mark": {"type": "text", "fontSize": 28, "fontWeight": "normal", "align": "center", "baseline": "middle"},
   "encoding": {"x": {"datum": 12.09, "type": "quantitative", "axis": null}, "y": {"datum": 9214, "type": "quantitative", "axis": null}, "text": {"value": "All clouds"}}},
  {"data": {"values": [{}]}, "mark": {"type": "text", "fontSize": 8, "fontWeight": "bold", "align": "left", "baseline": "middle"},
   "encoding": {"x": {"datum": 0.89, "type": "quantitative", "axis": null}, "y": {"datum": 2419, "type": "quantitative", "axis": null}, "text": {"value": "MSL Height of UFS = 2650 m"}}}
 ]
},
{
 "width": 538, "height": 397,
 "data": {"name": "d"},
 "resolve": {"axis": {"x": "independent", "y": "independent"}},
 "layer": [
  {"mark": {"type": "line", "strokeWidth": 1.5},
   "encoding": {
    "x": {"field": "h", "type": "quantitative", "scale": {"domain": [0, 24], "nice": false, "zero": false}, "axis": {"orient": "bottom", "values": [0, 6, 12, 18, 24], "ticks": false, "labelPadding": 16, "title": "Hour of day (UTC)", "titlePadding": 9}},
    "y": {"field": "v", "type": "quantitative", "scale": {"domain": [30, 100], "nice": false, "zero": false}, "axis": {"orient": "left", "values": [30, 40, 50, 60, 70, 80, 90, 100], "ticks": false, "labelPadding": 7, "title": "Mean cloud cover (%)", "titlePadding": 17}},
    "color": {"field": "s", "type": "nominal", "scale": {"domain": ["DJF", "MAM", "JJA", "SON"], "range": ["#3b8bd9", "#63b843", "#ec2b36", "#fb9c2d"]},
     "legend": {"title": null, "orient": "none", "legendX": 465, "legendY": 4, "encode": {"labels": {"update": {"fill": {"signal": "datum.value === 'DJF' ? '#3b8bd9' : datum.value === 'MAM' ? '#63b843' : datum.value === 'JJA' ? '#ec2b36' : '#fb9c2d'"}}}}}}
   }},
  {"mark": {"type": "point", "shape": "diamond", "filled": false, "size": 80, "strokeWidth": 1.3, "opacity": 1},
   "encoding": {
    "x": {"field": "h", "type": "quantitative", "scale": {"domain": [0, 24], "nice": false, "zero": false}, "axis": null},
    "y": {"field": "v", "type": "quantitative", "scale": {"domain": [30, 100], "nice": false, "zero": false}, "axis": null},
    "color": {"field": "s", "type": "nominal", "scale": {"domain": ["DJF", "MAM", "JJA", "SON"], "range": ["#3b8bd9", "#63b843", "#ec2b36", "#fb9c2d"]}}
   }},
  {"mark": {"type": "point", "opacity": 0},
   "encoding": {
    "x": {"field": "h", "type": "quantitative", "scale": {"domain": [0, 24], "nice": false, "zero": false}, "axis": {"orient": "bottom", "values": [0, 6, 12, 18, 24], "labels": false, "tickSize": -10, "title": null}},
    "y": {"field": "v", "type": "quantitative", "scale": {"domain": [30, 100], "nice": false, "zero": false}, "axis": {"orient": "left", "values": [30, 40, 50, 60, 70, 80, 90, 100], "labels": false, "tickSize": -10, "title": null}}
   }},
  {"mark": {"type": "point", "opacity": 0},
   "encoding": {
    "x": {"field": "h", "type": "quantitative", "scale": {"domain": [0, 24], "nice": false, "zero": false}, "axis": {"orient": "top", "values": [0, 6, 12, 18, 24], "labels": false, "tickSize": -10, "title": null}},
    "y": {"field": "v", "type": "quantitative", "scale": {"domain": [30, 100], "nice": false, "zero": false}, "axis": {"orient": "right", "values": [30, 40, 50, 60, 70, 80, 90, 100], "labels": false, "tickSize": -10, "title": null}}
   }},
  {"mark": {"type": "point", "opacity": 0},
   "encoding": {
    "x": {"field": "h", "type": "quantitative", "scale": {"domain": [0, 24], "nice": false, "zero": false}, "axis": {"orient": "bottom", "tickCount": 24, "labels": false, "tickSize": -5, "title": null}},
    "y": {"field": "v", "type": "quantitative", "scale": {"domain": [30, 100], "nice": false, "zero": false}, "axis": {"orient": "left", "tickCount": 70, "labels": false, "tickSize": -5, "title": null}}
   }},
  {"mark": {"type": "point", "opacity": 0},
   "encoding": {
    "x": {"field": "h", "type": "quantitative", "scale": {"domain": [0, 24], "nice": false, "zero": false}, "axis": {"orient": "top", "tickCount": 24, "labels": false, "tickSize": -5, "title": null}},
    "y": {"field": "v", "type": "quantitative", "scale": {"domain": [30, 100], "nice": false, "zero": false}, "axis": {"orient": "right", "tickCount": 70, "labels": false, "tickSize": -5, "title": null}}
   }},
  {"data": {"values": [{}]}, "mark": {"type": "text", "fontSize": 28, "fontWeight": "bold", "align": "center", "baseline": "middle"},
   "encoding": {"x": {"datum": 1.78, "type": "quantitative", "axis": null}, "y": {"datum": 92.95, "type": "quantitative", "axis": null}, "text": {"value": "d)"}}},
  {"data": {"values": [{}]}, "mark": {"type": "text", "fontSize": 28, "fontWeight": "normal", "align": "center", "baseline": "middle"},
   "encoding": {"x": {"datum": 12.49, "type": "quantitative", "axis": null}, "y": {"datum": 92.95, "type": "quantitative", "axis": null}, "text": {"value": "Cloud base height < 3 km"}}}
 ]
}
]
}
